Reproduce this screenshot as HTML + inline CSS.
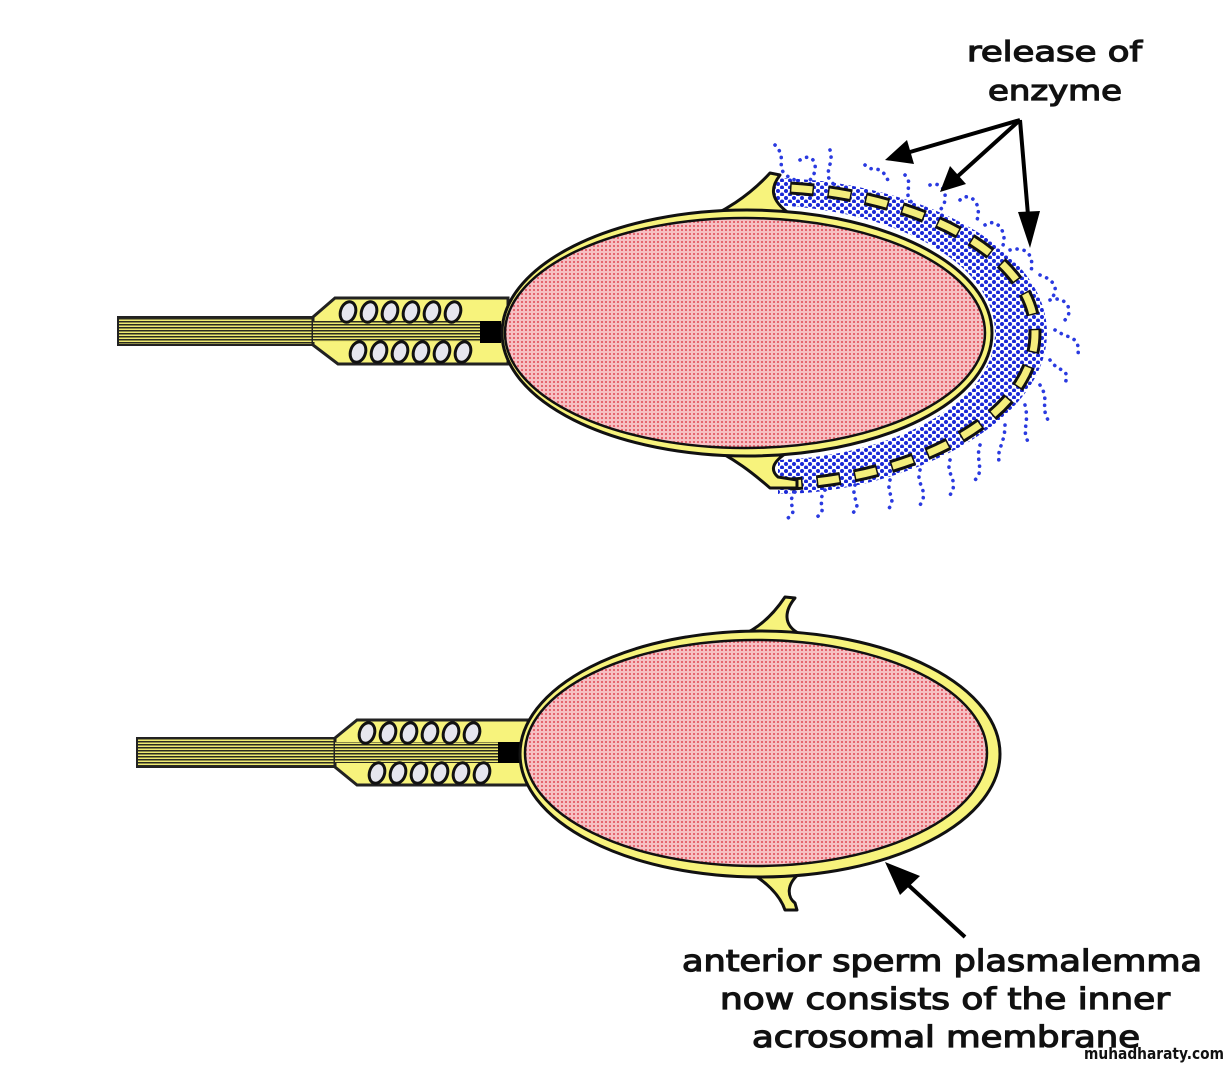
<!DOCTYPE html>
<html><head><meta charset="utf-8"><style>
html,body{margin:0;padding:0;background:#fff;}
svg{display:block;}
text{font-family:"DejaVu Sans","Liberation Sans",sans-serif;fill:#111;stroke:#111;stroke-width:1.2px;}
</style></head><body>
<svg width="1232" height="1066" viewBox="0 0 1232 1066" xmlns="http://www.w3.org/2000/svg">
<defs>
  <pattern id="pink" width="4" height="4" patternUnits="userSpaceOnUse">
    <rect width="4" height="4" fill="#f6c0c3"/>
    <circle cx="2" cy="2" r="1" fill="#e04854"/>
  </pattern>
  <pattern id="blue" width="8" height="7" patternUnits="userSpaceOnUse">
    <rect width="8" height="7" fill="#fff"/>
    <circle cx="2" cy="2" r="2" fill="#1a28d8"/>
    <circle cx="6" cy="5.5" r="2" fill="#1a28d8"/>
  </pattern>
  <pattern id="tail" width="4" height="3" patternUnits="userSpaceOnUse">
    <rect width="4" height="3" fill="#eeea70"/>
    <rect y="0" width="4" height="1.5" fill="#2a2a20"/>
  </pattern>
  <g id="ov"><ellipse rx="7.5" ry="10.5" fill="#e6e6ee" stroke="#111" stroke-width="3" transform="rotate(18)"/></g>
</defs>

<rect x="118" y="317" width="200" height="28" fill="url(#tail)" stroke="#222" stroke-width="2"/>
<path d="M313,317 L335,298 L508,298 L508,364 L338,364 L313,345 Z" fill="#f7f37c" stroke="#222" stroke-width="3"/>
<rect x="313" y="321" width="168" height="21" fill="url(#tail)"/>
<rect x="480" y="321" width="21" height="22" fill="#000"/>
<g>
  <use href="#ov" x="348" y="312"/><use href="#ov" x="369" y="312"/><use href="#ov" x="390" y="312"/>
  <use href="#ov" x="411" y="312"/><use href="#ov" x="432" y="312"/><use href="#ov" x="453" y="312"/>
  <use href="#ov" x="358" y="352"/><use href="#ov" x="379" y="352"/><use href="#ov" x="400" y="352"/>
  <use href="#ov" x="421" y="352"/><use href="#ov" x="442" y="352"/><use href="#ov" x="463" y="352"/>
</g>
<path d="M770,178 C900,178 1047,240 1047,333 C1047,425 900,494 778,494 L778,460 C900,455 995,400 995,333 C995,265 900,210 770,205 Z" fill="url(#blue)"/>
<g fill="none" stroke="#2a3ae0" stroke-width="3.6" stroke-linecap="round" stroke-dasharray="0.1 7">
  <path d="M775,145 C790,160 770,170 795,180"/>
  <path d="M800,160 C815,150 820,170 810,180"/>
  <path d="M830,150 C835,165 820,175 835,185"/>
  <path d="M865,165 C875,175 880,160 890,185"/>
  <path d="M905,175 C915,185 900,195 915,205"/>
  <path d="M930,185 C945,180 950,200 940,210"/>
  <path d="M960,200 C970,190 985,205 975,225"/>
  <path d="M985,225 C1000,215 1010,240 1000,250"/>
  <path d="M1010,250 C1030,245 1035,260 1030,275"/>
  <path d="M1040,275 C1055,280 1060,290 1050,300"/>
  <path d="M1050,300 C1065,295 1075,310 1065,320"/>
  <path d="M1055,330 C1070,340 1080,335 1078,355"/>
  <path d="M1050,360 C1060,375 1070,365 1065,385"/>
  <path d="M1040,385 C1050,400 1040,405 1048,420"/>
  <path d="M1025,405 C1030,425 1020,430 1030,445"/>
  <path d="M1005,425 C1005,445 995,450 1000,465"/>
  <path d="M980,445 C975,460 985,470 975,480"/>
  <path d="M950,460 C945,475 960,480 950,495"/>
  <path d="M920,470 C915,485 930,490 920,505"/>
  <path d="M890,480 C885,495 900,500 885,512"/>
  <path d="M855,485 C850,500 865,505 850,515"/>
  <path d="M825,490 C815,505 830,510 815,518"/>
  <path d="M795,492 C785,505 800,510 788,518"/>
</g>
<path d="M790,188 C910,195 1035,250 1035,333 C1035,420 910,478 790,484" fill="none" stroke="#111" stroke-width="13" stroke-dasharray="24 14"/>
<path d="M790,188 C910,195 1035,250 1035,333 C1035,420 910,478 790,484" fill="none" stroke="#f4ee7c" stroke-width="7" stroke-dasharray="21 17" stroke-dashoffset="-1.5"/>
<path d="M690,226 C725,212 750,195 770,173 L780,175 C770,188 770,200 790,214 Z" fill="#f7f37c" stroke="#111" stroke-width="3" stroke-linejoin="round"/>
<path d="M700,442 C735,458 755,475 770,488 L797,488 L797,480 L778,477 C770,470 772,462 788,452 Z" fill="#f7f37c" stroke="#111" stroke-width="3" stroke-linejoin="round"/>
<ellipse cx="747" cy="333" rx="245" ry="123" fill="#f7f37c" stroke="#111" stroke-width="3"/>
<ellipse cx="745" cy="333" rx="240" ry="115" fill="url(#pink)" stroke="#111" stroke-width="2.5"/>

<rect x="137" y="738" width="205" height="29" fill="url(#tail)" stroke="#222" stroke-width="2"/>
<path d="M335,738 L357,720 L528,720 L528,785 L357,785 L335,767 Z" fill="#f7f37c" stroke="#222" stroke-width="3"/>
<rect x="335" y="742" width="165" height="21" fill="url(#tail)"/>
<rect x="498" y="742" width="22" height="21" fill="#000"/>
<g>
  <use href="#ov" x="367" y="733"/><use href="#ov" x="388" y="733"/><use href="#ov" x="409" y="733"/>
  <use href="#ov" x="430" y="733"/><use href="#ov" x="451" y="733"/><use href="#ov" x="472" y="733"/>
  <use href="#ov" x="377" y="773"/><use href="#ov" x="398" y="773"/><use href="#ov" x="419" y="773"/>
  <use href="#ov" x="440" y="773"/><use href="#ov" x="461" y="773"/><use href="#ov" x="482" y="773"/>
</g>
<path d="M740,636 C760,628 775,612 785,597 L795,598 C785,610 782,625 800,634 Z" fill="#f7f37c" stroke="#111" stroke-width="3" stroke-linejoin="round"/>
<path d="M745,870 C765,880 780,895 785,910 L797,910 L795,903 C788,898 785,885 800,873 Z" fill="#f7f37c" stroke="#111" stroke-width="3" stroke-linejoin="round"/>
<ellipse cx="760" cy="754" rx="240" ry="123" fill="#f7f37c" stroke="#111" stroke-width="3"/>
<ellipse cx="756" cy="753" rx="231" ry="113" fill="url(#pink)" stroke="#111" stroke-width="2.5"/>

<g stroke="#000" stroke-width="4" fill="none">
  <line x1="1020" y1="120" x2="910" y2="152"/>
  <line x1="1020" y1="120" x2="958" y2="176"/>
  <line x1="1020" y1="120" x2="1028" y2="215"/>
  <line x1="965" y1="937" x2="905" y2="882"/>
</g>
<g fill="#000">
  <polygon points="885,160 907,140 914,164"/>
  <polygon points="940,192 950,166 966,184"/>
  <polygon points="1030,248 1018,212 1040,211"/>
  <polygon points="885,862 920,876 900,895"/>
</g>

<text x="967" y="61" font-size="28" textLength="175" lengthAdjust="spacingAndGlyphs">release of</text>
<text x="988" y="100" font-size="28" textLength="134" lengthAdjust="spacingAndGlyphs">enzyme</text>
<text x="682" y="971" font-size="29" textLength="520" lengthAdjust="spacingAndGlyphs">anterior sperm plasmalemma</text>
<text x="720" y="1009" font-size="29" textLength="450" lengthAdjust="spacingAndGlyphs">now consists of the inner</text>
<text x="752" y="1047" font-size="29" textLength="388" lengthAdjust="spacingAndGlyphs">acrosomal membrane</text>
<text x="1084" y="1059" font-size="16" font-weight="bold" style="stroke-width:0" textLength="140" lengthAdjust="spacingAndGlyphs">muhadharaty.com</text>
</svg>
</body></html>
